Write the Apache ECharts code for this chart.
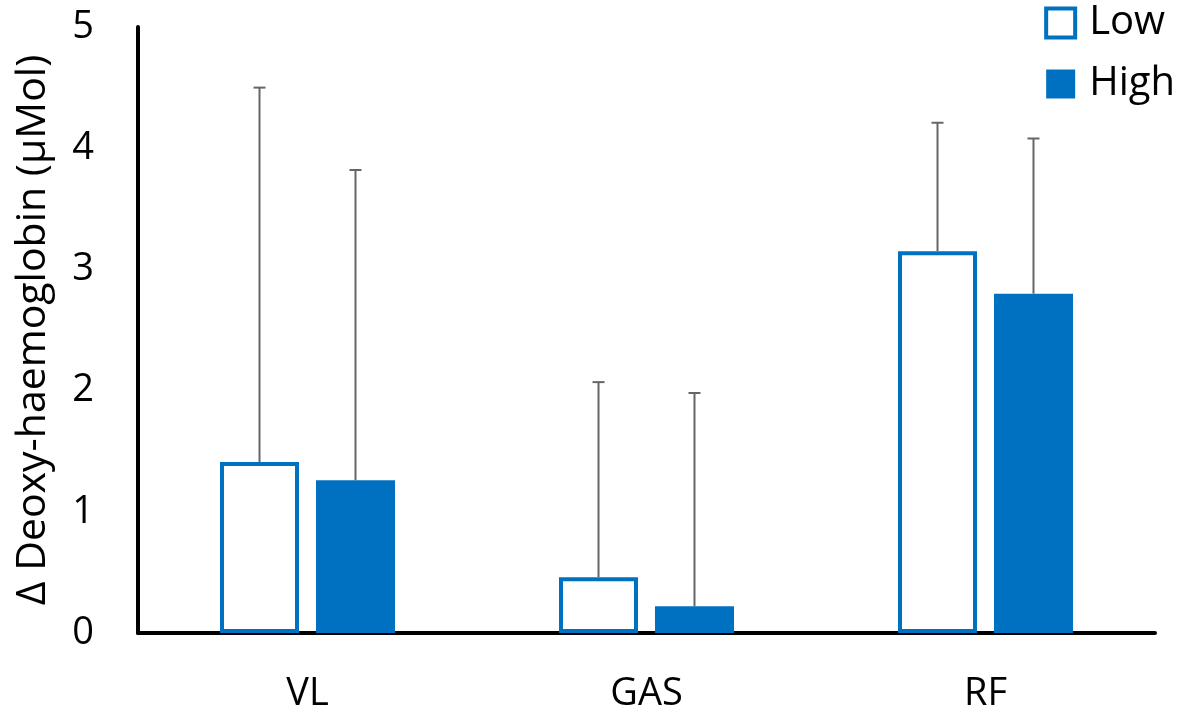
<!DOCTYPE html>
<html>
<head>
<meta charset="utf-8">
<script src="https://cdn.jsdelivr.net/npm/echarts@6/dist/echarts.min.js"></script>
<style>html,body{margin:0;padding:0;background:#fff;}#c{width:1182px;height:715px;}</style>
</head>
<body>
<div id="c"></div>
<script>
const categories = ['VL', 'GAS', 'RF'];
const lowMean = [1.41, 0.46, 3.15];
const lowErrTop = [4.50, 2.07, 4.21];
const highMean = [1.26, 0.22, 2.80];
const highErrTop = [3.82, 1.98, 4.08];
const yTicks = [0, 1, 2, 3, 4, 5];

const BLUE = '#0070C0';
const FONT = 'Open Sans';
const BW = 79, GAPPCT = 0.215;
const OFF = (BW + BW * GAPPCT) / 2;

function errSeries(name, means, tops, sign) {
  return {
    type: 'custom',
    name: name + '_err',
    z: 3,
    silent: true,
    data: means.map((m, i) => [i, m, tops[i]]),
    encode: { x: 0, y: [1, 2] },
    renderItem: function (params, api) {
      const xi = api.value(0);
      const b = api.coord([xi, api.value(1)]);
      const t = api.coord([xi, api.value(2)]);
      const x = b[0] + sign * OFF;
      const st = { stroke: '#666666', lineWidth: 2 };
      return {
        type: 'group',
        children: [
          { type: 'line', shape: { x1: x, y1: b[1], x2: x, y2: t[1] }, style: st },
          { type: 'line', shape: { x1: x - 6, y1: t[1], x2: x + 6, y2: t[1] }, style: st }
        ]
      };
    }
  };
}

const chart = echarts.init(document.getElementById('c'), null, { renderer: 'canvas' });
chart.setOption({
  animation: false,
  backgroundColor: '#fff',
  textStyle: { fontFamily: FONT },
  grid: { left: 138, right: 27, top: 27, bottom: 82, containLabel: false },
  legend: {
    orient: 'vertical',
    right: 2,
    top: -2,
    itemWidth: 29,
    itemHeight: 29,
    itemGap: 21,
    textStyle: { fontFamily: FONT, fontSize: 40, color: '#000', padding: [0, 0, 0, 9] },
    data: [
      { name: 'Low', icon: 'rect', itemStyle: { color: '#fff', borderColor: BLUE, borderWidth: 4 } },
      { name: 'High', icon: 'rect', itemStyle: { color: BLUE, borderWidth: 0 } }
    ]
  },
  xAxis: {
    type: 'category',
    data: categories,
    axisLine: { lineStyle: { color: '#000', width: 4 } },
    axisTick: { show: false },
    axisLabel: { color: '#000', fontSize: 38, fontFamily: FONT, margin: 42 }
  },
  yAxis: {
    type: 'value',
    min: yTicks[0],
    max: yTicks[yTicks.length - 1],
    interval: 1,
    name: 'Δ Deoxy-haemoglobin (μMol)',
    nameLocation: 'middle',
    nameGap: 84,
    nameTextStyle: { color: '#000', fontSize: 41, fontFamily: FONT },
    axisLine: { show: true, lineStyle: { color: '#000', width: 4 } },
    axisTick: { show: false },
    splitLine: { show: false },
    axisLabel: { color: '#000', fontSize: 38, fontFamily: FONT, margin: 44 }
  },
  series: [
    {
      name: 'Low', type: 'bar', data: lowMean, barWidth: BW, barGap: (GAPPCT * 100) + '%',
      itemStyle: { color: '#fff', borderColor: BLUE, borderWidth: 4 }, z: 2
    },
    {
      name: 'High', type: 'bar', data: highMean, barWidth: BW,
      itemStyle: { color: BLUE }, z: 2
    },
    errSeries('Low', lowMean, lowErrTop, -1),
    errSeries('High', highMean, highErrTop, 1)
  ]
});
</script>
</body>
</html>
